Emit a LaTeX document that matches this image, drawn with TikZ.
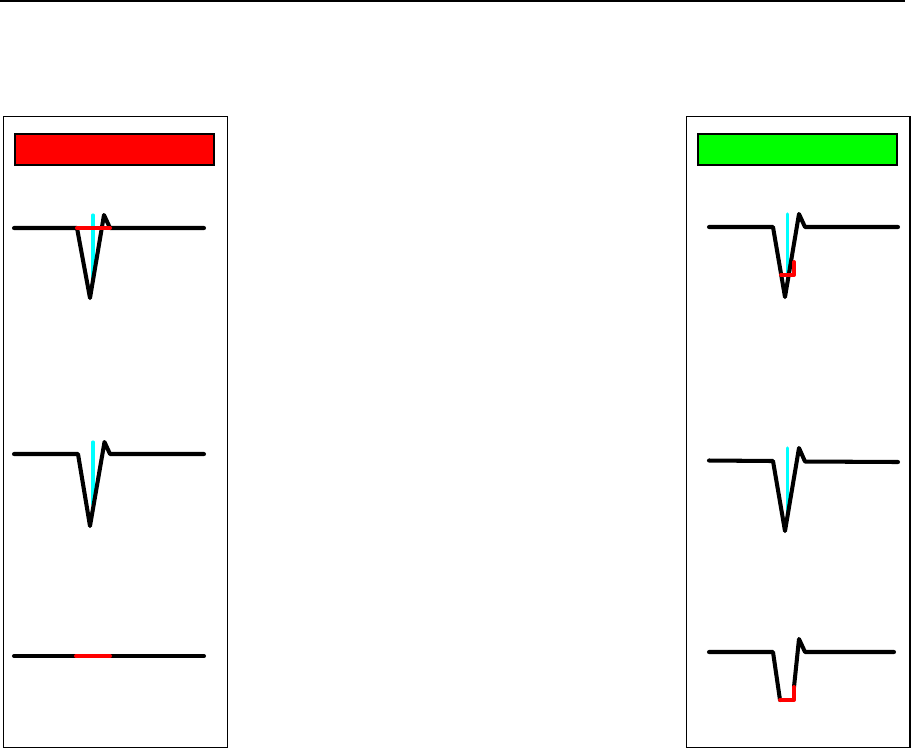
\documentclass[tikz,border=0pt]{standalone}
\usepackage{xcolor}
\usepackage{tikz}

\definecolor{alarmred}{RGB}{255,0,0}
\definecolor{okgreen}{RGB}{0,255,0}
\definecolor{markcyan}{RGB}{0,255,255}

\begin{document}
\begin{tikzpicture}[x=0.02cm,y=-0.02cm,
  panel/.style={draw=black,line width=0.6pt},
  banner/.style={draw=black,line width=0.6pt},
  trace/.style={black,line width=2.3pt,line cap=round,line join=round},
  marker/.style={markcyan,line width=1.8pt,line cap=round},
  window/.style={alarmred,line width=2.3pt,line cap=round,line join=round}]
  \useasboundingbox (0,0) rectangle (913,752);
  \draw[line width=0.6pt] (0,1) -- (905,1);

  % left panel
  \draw[panel] (3.5,116.5) rectangle (227.5,747.5);
  \draw[banner,fill=alarmred] (15,134) rectangle (214,165);

  \draw[marker] (93,215) -- (93,279);
  \draw[trace] (14,228) -- (77,228) -- (90,298) -- (104,215) -- (110,228) -- (204,228);
  \draw[window] (77,228) -- (110,228);

  \draw[marker] (93,442) -- (93,504);
  \draw[trace] (14,454) -- (78,454) -- (90,526) -- (104.5,442) -- (110,454) -- (204,454);

  \draw[trace] (14,656) -- (204,656);
  \draw[window] (76,656) -- (110,656);

  % right panel
  \draw[panel] (686.5,116.5) rectangle (910,747.5);
  \draw[banner,fill=okgreen] (698,134) rectangle (897,165);

  \draw[marker] (787.5,214) -- (787.5,278);
  \draw[trace] (709,227) -- (773,227) -- (785,297) -- (799,214) -- (805,227) -- (898,227);
  \draw[window] (781,275) -- (794,275) -- (794,262);

  \draw[marker] (787.5,448) -- (787.5,515);
  \draw[trace] (709,460.5) -- (773,461) -- (785,531) -- (799,448) -- (805,461.5) -- (898,462);

  \draw[trace] (709,652) -- (773,652) -- (780,700);
  \draw[trace] (794,687) -- (799,639) -- (805,652) -- (894,652);
  \draw[window] (780,700) -- (794,700) -- (794,687);
\end{tikzpicture}
\end{document}
